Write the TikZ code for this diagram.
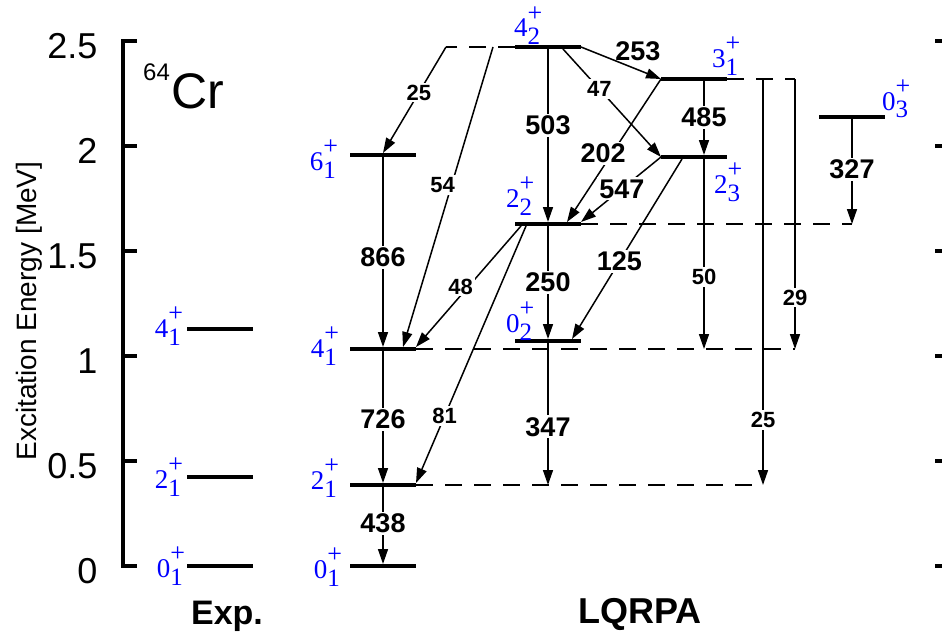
\documentclass[tikz,border=0pt]{standalone}
\usepackage{fontspec}
\setmainfont{Liberation Sans}
\newfontfamily\serifjp{Liberation Serif}
\usepackage{tikz}
\usetikzlibrary{arrows.meta, positioning, calc}

% spin-parity label J^+_n
\newcommand{\spinlab}[2]{#1\rlap{\raisebox{15.5pt}{\serifjp\fontsize{26}{26}\selectfont +}}\raisebox{-8pt}{\serifjp\fontsize{25}{25}\selectfont #2}}

\begin{document}
\begin{tikzpicture}[x=1pt, y=-1pt,
    lvl/.style={fill=black, minimum width=66pt, minimum height=4pt, inner sep=0pt, outer sep=0pt},
    tr/.style={line width=1.5pt, -{Triangle[length=15pt, width=10pt]}},
    big/.style={font=\bfseries\fontsize{27}{27}\selectfont, fill=white, inner sep=2pt},
    small/.style={font=\bfseries\fontsize{22}{22}\selectfont, fill=white, inner sep=2pt},
    dsh/.style={line width=2pt, dash pattern=on 17pt off 12pt},
    jp/.style={text=blue, inner sep=0pt, font=\serifjp\fontsize{27}{27}\selectfont}]
    \useasboundingbox (0,0) rectangle (942,634);

    % energy axis
    \draw[line width=4pt] (137,41) -- (123,41) -- (123,566) -- (137,566);
    \foreach \v in {0.5,1,1.5,2}
        \draw[line width=4pt] (123,566-210*\v) -- (137,566-210*\v);
    \foreach \v in {0,0.5,1,1.5,2,2.5}
        \draw[line width=4pt] (935,566-210*\v) -- (942,566-210*\v);
    \foreach \v in {0,0.5,1,1.5,2,2.5}
        \node[anchor=east, yshift=-5pt, font=\fontsize{36}{36}\selectfont] at (101,566-210*\v) {\v};
    \node[rotate=90, font=\fontsize{28}{28}\selectfont] (ylab) at (29,311) {Excitation Energy [MeV]};

    \node[anchor=base west, inner sep=0pt, font=\fontsize{50}{50}\selectfont] (nuc) at (143,108) {\raisebox{28pt}{\fontsize{24}{24}\selectfont 64}\kern2pt Cr};
    \node[anchor=base, font=\bfseries\fontsize{34}{34}\selectfont] (exp) at (227,624) {Exp.};
    \node[anchor=base, font=\bfseries\fontsize{36}{36}\selectfont] (qrpa) at (640,623) {LQRPA};

    % levels
    \node[lvl] (e0) at (220,566) {};
    \node[lvl] (e2) at (220,477) {};
    \node[lvl] (e4) at (220,329) {};
    \node[lvl] (a0) at (383,566) {};
    \node[lvl] (a2) at (383,485) {};
    \node[lvl] (a4) at (383,349) {};
    \node[lvl] (a6) at (383,155) {};
    \node[lvl] (b4) at (548,47) {};
    \node[lvl] (b2) at (548,224) {};
    \node[lvl] (b0) at (548,341) {};
    \node[lvl] (c3) at (694,79) {};
    \node[lvl] (c2) at (694,157) {};
    \node[lvl] (d0) at (852,117) {};

    % level labels
    \node[jp, anchor=base east] (le4) at (181,337) {\spinlab{4}{1}};
    \node[jp, anchor=base east] (le2) at (181,488) {\spinlab{2}{1}};
    \node[jp, anchor=base east] (le0) at (183,577) {\spinlab{0}{1}};
    \node[jp, anchor=base east] (la6) at (336,170) {\spinlab{6}{1}};
    \node[jp, anchor=base east] (la4) at (337,357) {\spinlab{4}{1}};
    \node[jp, anchor=base east] (la2) at (337,489) {\spinlab{2}{1}};
    \node[jp, anchor=base east] (la0) at (340,578) {\spinlab{0}{1}};
    \node[jp, anchor=base west] (lb4) at (514,37) {\spinlab{4}{2}};
    \node[jp, anchor=base west] (lb2) at (506,207) {\spinlab{2}{2}};
    \node[jp, anchor=base west] (lb0) at (506,332) {\spinlab{0}{2}};
    \node[jp, anchor=base west] (lc3) at (712,67) {\spinlab{3}{1}};
    \node[jp, anchor=base west] (lc2) at (714,193) {\spinlab{2}{3}};
    \node[jp, anchor=base west] (ld0) at (882,110) {\spinlab{0}{3}};

    % dashed extensions
    \coordinate (k4) at (446,47);
    \coordinate (k3) at (795,79);
    \coordinate (k25) at (763,79);
    \coordinate (k22) at (852,224);
    \coordinate (k41) at (795,349);
    \coordinate (k21) at (763,485);
    \coordinate (f50) at (704,349);
    \coordinate (f347) at (548,485);
    \draw[dsh] (b4.west) -- (k4);
    \draw[dsh] (c3.east) -- (k3);
    \draw[dsh] (b2.east) -- (k22);
    \draw[dsh] (a4.east) -- (k41);
    \draw[dsh] (a2.east) -- (k21);

    % transitions
    \draw[tr] (a6.south) -- (a4.north) node[big, pos=0.53] {866};
    \draw[tr] (a4.south) -- (a2.north) node[big, pos=0.52] {726};
    \draw[tr] (a2.south) -- (a0.north) node[big, pos=0.47] {438};
    \draw[tr] (k4) -- (a6.north) node[small, pos=0.43] {25};
    \draw[tr] ([xshift=-22pt]b4.west) -- ([xshift=-13pt]a4.north east) node[small, pos=0.46, xshift=-9pt] {54};
    \draw[tr] ([xshift=6pt]b2.south west) -- (a4.north east) node[small, pos=0.5, xshift=-8pt] {48};
    \draw[tr] ([xshift=11pt]b2.south west) -- (a2.north east) node[small, pos=0.74] {81};
    \draw[tr] (b4.south) -- (b2.north) node[big, pos=0.44] {503};
    \draw[tr] (b2.south) -- (b0.north) node[big, pos=0.5] {250};
    \draw[tr] (b0.south) -- (f347) node[big, pos=0.59] {347};
    \draw[tr] (b4.east) -- (c3.west) node[big, fill=none, pos=0.71, above=6pt] {253};
    \draw[tr] ([xshift=15pt]b4.south) -- (c2.west) node[small, pos=0.37] {47};
    \draw[tr] (c3.west) -- ([xshift=19pt]b2.north) node[big, pos=0.52, xshift=-9pt] {202};
    \draw[tr] (c2.west) -- (b2.north east) node[big, pos=0.49] {547};
    \draw[tr] ([xshift=10pt]c3.south) -- ([xshift=10pt]c2.north) node[big, pos=0.49] {485};
    \draw[tr] ([xshift=-12pt]c2.south) -- ([xshift=24pt]b0.north) node[big, pos=0.57] {125};
    \draw[tr] ([xshift=10pt]c2.south) -- (f50) node[small, pos=0.62] {50};
    \draw[tr] (k25) -- (k21) node[small, pos=0.84] {25};
    \draw[tr] (k3) -- (k41) node[small, pos=0.81] {29};
    \draw[tr] (d0.south) -- (k22) node[big, pos=0.48] {327};
\end{tikzpicture}
\end{document}
